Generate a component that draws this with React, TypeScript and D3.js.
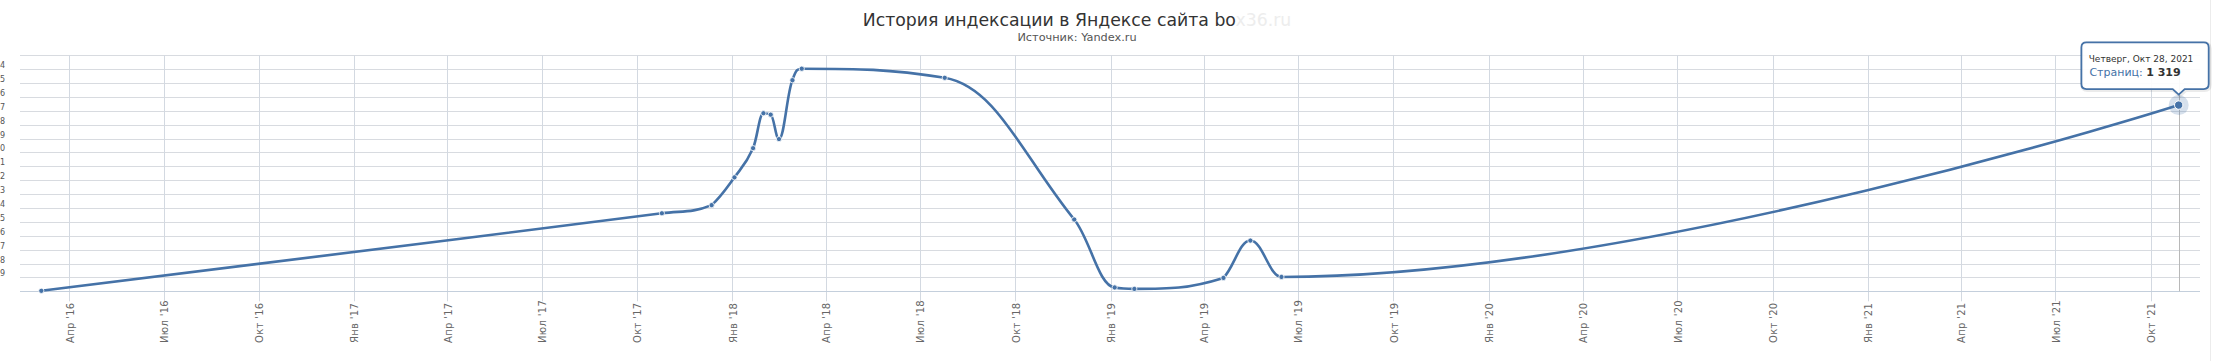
import React from 'react';
import * as d3 from 'd3';

// ---------- data ----------
const TITLE_VISIBLE = 'История индексации в Яндексе сайта bo';
const TITLE_FADED = 'x36.ru';
const SUBTITLE = 'Источник: Yandex.ru';
const SERIES_NAME = 'Страниц';

const dates = [
  '2016-03-05', '2017-10-25', '2017-12-12', '2018-01-03', '2018-01-21', '2018-01-31',
  '2018-02-07', '2018-02-15', '2018-02-28', '2018-03-09', '2018-07-25', '2018-11-27',
  '2019-01-05', '2019-01-24', '2019-04-20', '2019-05-16', '2019-06-15', '2021-10-28',
];
const pages = [
  931, 1093, 1110, 1168, 1229, 1302,
  1299, 1248, 1371, 1395, 1376, 1080,
  938, 935, 958, 1036, 960, 1319,
];

const yTickStart = 930;
const yTickEnd = 1423;
const yTickStep = 29;

const monthsShort = ['Янв', 'Фев', 'Мар', 'Апр', 'Май', 'Июн', 'Июл', 'Авг', 'Сен', 'Окт', 'Ноя', 'Дек'];
const weekdays = ['Воскресенье', 'Понедельник', 'Вторник', 'Среда', 'Четверг', 'Пятница', 'Суббота'];

// ---------- layout ----------
const W = 2236;
const H = 361;
const plotLeft = 20;
const plotRight = 2200;
const plotTop = 55.3;
const plotBottom = 291.3;
const pad = 21.3;
const COLOR = '#4572A7';
const FONT = '"DejaVu Sans", Verdana, sans-serif';

// Highcharts-style spline as a d3 curve
function hcSpline(context: any) {
  let pts: [number, number][] = [];
  return {
    areaStart() {},
    areaEnd() {},
    lineStart() { pts = []; },
    point(x: number, y: number) { pts.push([+x, +y]); },
    lineEnd() {
      const n = pts.length;
      if (!n) return;
      const sm = 1.5, den = sm + 1;
      const lc: [number, number][] = [];
      const rc: [number, number][] = [];
      for (let i = 0; i < n; i++) {
        const [px, py] = pts[i];
        if (i === 0 || i === n - 1) { lc[i] = [px, py]; rc[i] = [px, py]; continue; }
        const [lx, ly] = pts[i - 1];
        const [nx, ny] = pts[i + 1];
        const lcx = (sm * px + lx) / den;
        let lcy = (sm * py + ly) / den;
        const rcx = (sm * px + nx) / den;
        let rcy = (sm * py + ny) / den;
        let corr = 0;
        if (rcx !== lcx) corr = ((rcy - lcy) * (rcx - px)) / (rcx - lcx) + py - rcy;
        lcy += corr; rcy += corr;
        if (lcy > ly && lcy > py) { lcy = Math.max(ly, py); rcy = 2 * py - lcy; }
        else if (lcy < ly && lcy < py) { lcy = Math.min(ly, py); rcy = 2 * py - lcy; }
        if (rcy > ny && rcy > py) { rcy = Math.max(ny, py); lcy = 2 * py - rcy; }
        else if (rcy < ny && rcy < py) { rcy = Math.min(ny, py); lcy = 2 * py - rcy; }
        lc[i] = [lcx, lcy];
        rc[i] = [rcx, rcy];
      }
      context.moveTo(pts[0][0], pts[0][1]);
      for (let i = 1; i < n; i++) {
        context.bezierCurveTo(rc[i - 1][0], rc[i - 1][1], lc[i][0], lc[i][1], pts[i][0], pts[i][1]);
      }
    },
  };
}

const fmtNum = (v: number) => d3.format(',')(v).replace(/,/g, ' ');
// in the reference only the last digit of each y label is visible (the rest lies off the page)
const visibleTail = (v: number) => fmtNum(v).slice(-1);

export default function App() {
  const parse = d3.timeParse('%Y-%m-%d');
  const data = dates.map((d, i) => ({ date: parse(d) as Date, value: pages[i] }));

  const x = d3.scaleTime()
    .domain(d3.extent(data, (d) => d.date) as [Date, Date])
    .range([plotLeft + pad, plotRight - pad]);
  const y = d3.scaleLinear().domain([yTickStart, yTickEnd]).range([plotBottom, plotTop]);

  const yTicks = d3.range(yTickStart, yTickEnd + 1, yTickStep);
  const xTicks = x.ticks(d3.timeMonth.every(3) as any);

  const line = d3.line<{ date: Date; value: number }>()
    .x((d) => x(d.date))
    .y((d) => y(d.value))
    .curve(hcSpline as any);

  const last = data[data.length - 1];
  const px = x(last.date);
  const py = y(last.value);

  const bx0 = px - 97.3;
  const bx1 = px + 30;
  const by0 = py - 62.7;
  const by1 = py - 16;
  const r = 5;
  const tipY = py - 10.5;
  const tooltipPath = [
    `M ${bx0 + r} ${by0}`,
    `L ${bx1 - r} ${by0}`,
    `Q ${bx1} ${by0} ${bx1} ${by0 + r}`,
    `L ${bx1} ${by1 - r}`,
    `Q ${bx1} ${by1} ${bx1 - r} ${by1}`,
    `L ${px + 6} ${by1}`,
    `L ${px} ${tipY}`,
    `L ${px - 6} ${by1}`,
    `L ${bx0 + r} ${by1}`,
    `Q ${bx0} ${by1} ${bx0} ${by1 - r}`,
    `L ${bx0} ${by0 + r}`,
    `Q ${bx0} ${by0} ${bx0 + r} ${by0}`,
    'Z',
  ].join(' ');

  const header = `${weekdays[last.date.getDay()]}, ${monthsShort[last.date.getMonth()]} ${last.date.getDate()}, ${last.date.getFullYear()}`;

  return (
    <svg
      width={W}
      height={H}
      style={{ position: 'absolute', left: 0, top: 0, background: '#fff' }}
      fontFamily={FONT}
    >
      <rect x={0} y={0} width={W} height={H} fill="#fff" />
      {/* right border of the chart container */}
      <line x1={2210.5} x2={2210.5} y1={0} y2={H} stroke="#ececec" strokeWidth={1} />

      {/* title */}
      <text x={1077} y={26} textAnchor="middle" fontSize={17.3} fill="#333">
        <tspan>{TITLE_VISIBLE}</tspan>
        <tspan fill="#ededed">{TITLE_FADED}</tspan>
      </text>
      <text x={1077} y={41} textAnchor="middle" fontSize={11.3} fill="#555">{SUBTITLE}</text>

      {/* horizontal grid */}
      {yTicks.map((t) => (
        <line key={`hg${t}`} x1={plotLeft} x2={plotRight} y1={Math.round(y(t)) + 0.5} y2={Math.round(y(t)) + 0.5}
          stroke="#d8dbe0" strokeWidth={1} />
      ))}
      {/* vertical grid + ticks */}
      {xTicks.map((t) => (
        <line key={`vg${+t}`} x1={Math.round(x(t)) + 0.5} x2={Math.round(x(t)) + 0.5} y1={plotTop} y2={plotBottom + 10}
          stroke="#d3d9e1" strokeWidth={1} />
      ))}
      {/* x axis line */}
      <line x1={plotLeft} x2={plotRight} y1={Math.round(plotBottom) + 0.5} y2={Math.round(plotBottom) + 0.5}
        stroke="#c4cfdc" strokeWidth={1} />

      {/* y labels: visible tail of each tick label */}
      {yTicks.slice(1, -1).map((t) => (
        <text key={`yl${t}`} x={5.2} y={y(t) - 1} textAnchor="end" fontSize={8} fill="#555">{visibleTail(t)}</text>
      ))}

      {/* x labels */}
      {xTicks.map((t) => {
        const tx = x(t) + 4.3;
        const ty = 343;
        return (
          <text key={`xl${+t}`} x={tx} y={ty} transform={`rotate(-90 ${tx} ${ty})`} fontSize={10}
            letterSpacing={0.3} fill="#666">
            {`${monthsShort[t.getMonth()]} '${String(t.getFullYear()).slice(2)}`}
          </text>
        );
      })}

      {/* crosshair */}
      <line x1={Math.round(px) + 0.5} x2={Math.round(px) + 0.5} y1={plotTop} y2={plotBottom} stroke="#b8b8b8" strokeWidth={1} />

      {/* series */}
      <path d={line(data) || ''} fill="none" stroke={COLOR} strokeWidth={2.6} strokeLinejoin="round" strokeLinecap="round" />
      {data.slice(0, -1).map((d, i) => (
        <circle key={`m${i}`} cx={x(d.date)} cy={y(d.value)} r={2.6} fill={COLOR} stroke="#fff" strokeWidth={0.8} />
      ))}

      {/* hover marker */}
      <circle cx={px} cy={py} r={10} fill={COLOR} fillOpacity={0.22} />
      <circle cx={px} cy={py} r={4.2} fill={COLOR} stroke="#fff" strokeWidth={1} />

      {/* tooltip */}
      <path d={tooltipPath} transform="translate(1,1)" fill="none" stroke="rgba(0,0,0,0.08)" strokeWidth={4} />
      <path d={tooltipPath} fill="rgba(255,255,255,0.92)" stroke={COLOR} strokeWidth={1.8} />
      <text x={bx0 + 7.3} y={py - 42.7} fontSize={9} fill="#333">{header}</text>
      <text x={bx0 + 8} y={py - 29.3} fontSize={11}>
        <tspan fill={COLOR}>{`${SERIES_NAME}: `}</tspan>
        <tspan fill="#333" fontWeight="bold">{fmtNum(last.value)}</tspan>
      </text>
    </svg>
  );
}
